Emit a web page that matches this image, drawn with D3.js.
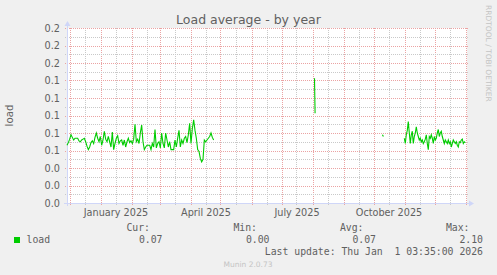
<!DOCTYPE html>
<meta charset="utf-8">
<title>Load average - by year</title>
<style>
  body { margin: 0; background: #f0f0f0; }
  svg { display: block; }
  text { fill: #606060; font-family: "DejaVu Sans", sans-serif; }
  .mono { font-family: "DejaVu Sans Mono", monospace; font-size: 9.8px; white-space: pre; }
</style>
<body>
<script src="https://cdn.jsdelivr.net/npm/d3@7"></script>
<script>

// ---- data ----
var rangeStart = "2024-11-28T12:00Z",
    rangeEnd   = "2026-01-02T12:00Z";

// first block of daily-ish samples (rrd step ~32h)
var seg1Start = "2024-11-28T12:00Z", seg1StepHours = 32;
var seg1Values = [
  .066,.069,.073,.078,.075,.072,.074,.074,.074,.071,
  .070,.072,.073,.074,.070,.065,.061,.064,.069,.071,
  .068,.075,.080,.074,.070,.076,.066,.072,.082,.073,
  .070,.076,.070,.064,.081,.061,.068,.074,.077,.068,
  .071,.072,.066,.072,.064,.070,.074,.069,.071,.068,
  .073,.090,.070,.073,.068,.080,.089,.070,.061,.064,
  .066,.066,.066,.061,.068,.064,.084,.063,.068,.070,
  .063,.080,.068,.063,.080,.072,.064,.070,.061,.061,
  .061,.072,.064,.074,.083,.064,.072,.068,.074,.076,
  .069,.078,.091,.068,.085,.095,.083,.074,.061,.059,
  .051,.047,.050,.072,.070,.072,.074,.076,.080,.075,
  .072
];

// lone spike in August and a single sample in October
var spikeDates  = ["2025-08-03T00:00Z", "2025-08-03T14:00Z"];
var spikeValues = [.1425, .1026];
var dotDates    = ["2025-10-09T22:00Z", "2025-10-10T22:00Z"];
var dotValues   = [.078, .076];

// last block, daily samples
var seg2Start = "2025-10-31T19:00Z", seg2StepHours = 24;
var seg2Values = [
  .074,.068,.078,.083,.093,.080,.068,.078,.082,.068,
  .076,.080,.087,.080,.076,.072,.074,.070,.072,.068,
  .070,.073,.078,.068,.061,.076,.074,.078,.074,.068,
  .076,.072,.074,.080,.084,.076,.080,.082,.076,.072,
  .068,.072,.070,.068,.072,.068,.070,.064,.068,.072,
  .070,.068,.070,.066,.064,.070,.069,.072,.073,.068,
  .070,.069
];

var yMajor = [0, .02, .04, .06, .08, .10, .12, .14, .16, .18, .20];
var yMinor = [.01, .03, .05, .07, .09, .11, .13, .15, .17, .19];
var monthLabels = ["2025-01-01", "2025-04-01", "2025-07-01", "2025-10-01"];

var legendNames = ["Cur:", "Min:", "Avg:", "Max:"];
var legendValues = ["0.07", "0.00", "0.07", "2.10"];

// ---- layout ----
var W = 497, H = 275,
    x0 = 67, x1 = 467, yTop = 28, yBot = 203;

var svg = d3.select("body").append("svg")
  .attr("width", W)
  .attr("height", H);

var x = d3.scaleUtc()
  .domain([new Date(rangeStart), new Date(rangeEnd)])
  .range([x0, x1]);

var y = d3.scaleLinear()
  .domain([0, 0.2])
  .range([yBot, yTop]);

function series(start, stepHours, values) {
  var t0 = new Date(start).getTime();
  return values.map(function (v, i) {
    return { t: new Date(t0 + i * stepHours * 3600e3), v: v };
  });
}
function pairs(dates, values) {
  return dates.map(function (d, i) { return { t: new Date(d), v: values[i] }; });
}

// canvas
svg.append("rect")
  .attr("x", x0).attr("y", yTop)
  .attr("width", x1 - x0).attr("height", yBot - yTop)
  .attr("fill", "#ffffff");

var grid = svg.append("g").attr("shape-rendering", "crispEdges");
var minorCol = "#c9c9c9", majorCol = "#eba3a3";

// vertical grid: months (major), mid-month (minor)
var months = d3.utcMonth.range(x.domain()[0], x.domain()[1]);
var mids = months.map(function (m) { return d3.utcDay.offset(m, 15); })
  .filter(function (d) { return d < x.domain()[1]; });

grid.selectAll("line.vmin").data(mids).join("line")
  .attr("x1", function (d) { return Math.round(x(d)) + 0.5; })
  .attr("x2", function (d) { return Math.round(x(d)) + 0.5; })
  .attr("y1", yTop).attr("y2", yBot + 2)
  .attr("stroke", minorCol).attr("stroke-dasharray", "1,1");

grid.selectAll("line.vmaj").data(months).join("line")
  .attr("x1", function (d) { return Math.round(x(d)) + 0.5; })
  .attr("x2", function (d) { return Math.round(x(d)) + 0.5; })
  .attr("y1", yTop).attr("y2", yBot + 3)
  .attr("stroke", majorCol).attr("stroke-dasharray", "1,1");

// horizontal grid
grid.selectAll("line.hmin").data(yMinor).join("line")
  .attr("x1", x0 - 2).attr("x2", x1 + 2)
  .attr("y1", function (d) { return Math.round(y(d)) + 0.5; })
  .attr("y2", function (d) { return Math.round(y(d)) + 0.5; })
  .attr("stroke", minorCol).attr("stroke-dasharray", "1,1");

grid.selectAll("line.hmaj").data(yMajor).join("line")
  .attr("x1", x0 - 2).attr("x2", x1 + 2)
  .attr("y1", function (d) { return Math.round(y(d)) + 0.5; })
  .attr("y2", function (d) { return Math.round(y(d)) + 0.5; })
  .attr("stroke", majorCol).attr("stroke-dasharray", "1,1");

// axes lines + arrows
var axisCol = "#cfd6f8";
grid.append("line")
  .attr("x1", x0 - 3).attr("x2", x1 + 2)
  .attr("y1", yBot + 0.5).attr("y2", yBot + 0.5)
  .attr("stroke", axisCol);
grid.append("line")
  .attr("x1", x0 + 0.5).attr("x2", x0 + 0.5)
  .attr("y1", yBot + 3).attr("y2", yTop - 3)
  .attr("stroke", axisCol);
svg.append("path")
  .attr("d", "M" + (x1 + 2) + "," + (yBot - 2.5) + "L" + (x1 + 7) + "," + (yBot + 0.5) +
             "L" + (x1 + 2) + "," + (yBot + 3.5) + "Z")
  .attr("fill", axisCol);
svg.append("path")
  .attr("d", "M" + (x0 - 2.5) + "," + (yTop - 2) + "L" + (x0 + 0.5) + "," + (yTop - 7) +
             "L" + (x0 + 3.5) + "," + (yTop - 2) + "Z")
  .attr("fill", axisCol);

// y labels
var yAxis = d3.axisLeft(y)
  .tickValues(yMajor)
  .tickFormat(d3.format(".1f"))
  .tickSize(0)
  .tickPadding(7);
var gy = svg.append("g").attr("transform", "translate(" + x0 + ",0)").call(yAxis);
gy.select(".domain").remove();
gy.selectAll("text")
  .attr("fill", "#606060")
  .style("font-family", "DejaVu Sans")
  .style("font-size", "9.7px");

// x labels, centred half a month after the month start (rrdtool style)
var labelDates = monthLabels.map(function (d) { return d3.utcDay.offset(new Date(d + "T00:00Z"), 15); });
var xAxis = d3.axisBottom(x)
  .tickValues(labelDates)
  .tickFormat(function (d) { return d3.utcFormat("%B %Y")(d3.utcMonth.floor(d)); })
  .tickSize(0)
  .tickPadding(6);
var gx = svg.append("g").attr("transform", "translate(0," + yBot + ")").call(xAxis);
gx.select(".domain").remove();
gx.selectAll("text")
  .attr("fill", "#606060")
  .style("font-family", "DejaVu Sans")
  .style("font-size", "9.7px");

// data line
var line = d3.line()
  .x(function (d) { return x(d.t); })
  .y(function (d) { return y(d.v); });

var blocks = [
  series(seg1Start, seg1StepHours, seg1Values),
  pairs(spikeDates, spikeValues),
  pairs(dotDates, dotValues),
  series(seg2Start, seg2StepHours, seg2Values)
];

svg.append("g").selectAll("path").data(blocks).join("path")
  .attr("d", line)
  .attr("fill", "none")
  .attr("stroke", "#00cc00")
  .attr("stroke-width", 1.1);

// title + unit
svg.append("text")
  .attr("x", 248.5).attr("y", 23.5)
  .attr("text-anchor", "middle")
  .style("font-size", "12.5px")
  .text("Load average - by year");

svg.append("text")
  .attr("transform", "translate(13," + ((yTop + yBot) / 2) + ") rotate(-90)")
  .attr("text-anchor", "middle")
  .style("font-size", "10.2px")
  .text("load");

// watermarks
svg.append("text")
  .attr("transform", "translate(485.5,5) rotate(90)")
  .attr("fill", "#c4c4c4")
  .style("fill", "#c4c4c4")
  .style("font-size", "7.5px")
  .text("RRDTOOL / TOBI OETIKER");

svg.append("text")
  .attr("x", 248).attr("y", 266.5)
  .attr("text-anchor", "middle")
  .style("fill", "#c4c4c4")
  .style("font-size", "7.5px")
  .text("Munin 2.0.73");

// legend
var headX = [150, 257, 363.5, 469.5],
    valX  = [162.5, 269.5, 376, 483];

svg.selectAll("text.head").data(legendNames).join("text")
  .attr("class", "mono head")
  .attr("x", function (d, i) { return headX[i]; })
  .attr("y", 231)
  .attr("text-anchor", "end")
  .text(function (d) { return d; });

svg.append("rect")
  .attr("x", 14).attr("y", 237)
  .attr("width", 6).attr("height", 6)
  .attr("fill", "#00cc00");

svg.append("text")
  .attr("class", "mono")
  .attr("x", 26.5).attr("y", 243)
  .text("load");

svg.selectAll("text.val").data(legendValues).join("text")
  .attr("class", "mono val")
  .attr("x", function (d, i) { return valX[i]; })
  .attr("y", 243)
  .attr("text-anchor", "end")
  .text(function (d) { return d; });

svg.append("text")
  .attr("class", "mono")
  .attr("x", 483).attr("y", 255)
  .attr("text-anchor", "end")
  .text("Last update: Thu Jan  1 03:35:00 2026");

</script>
</body>
